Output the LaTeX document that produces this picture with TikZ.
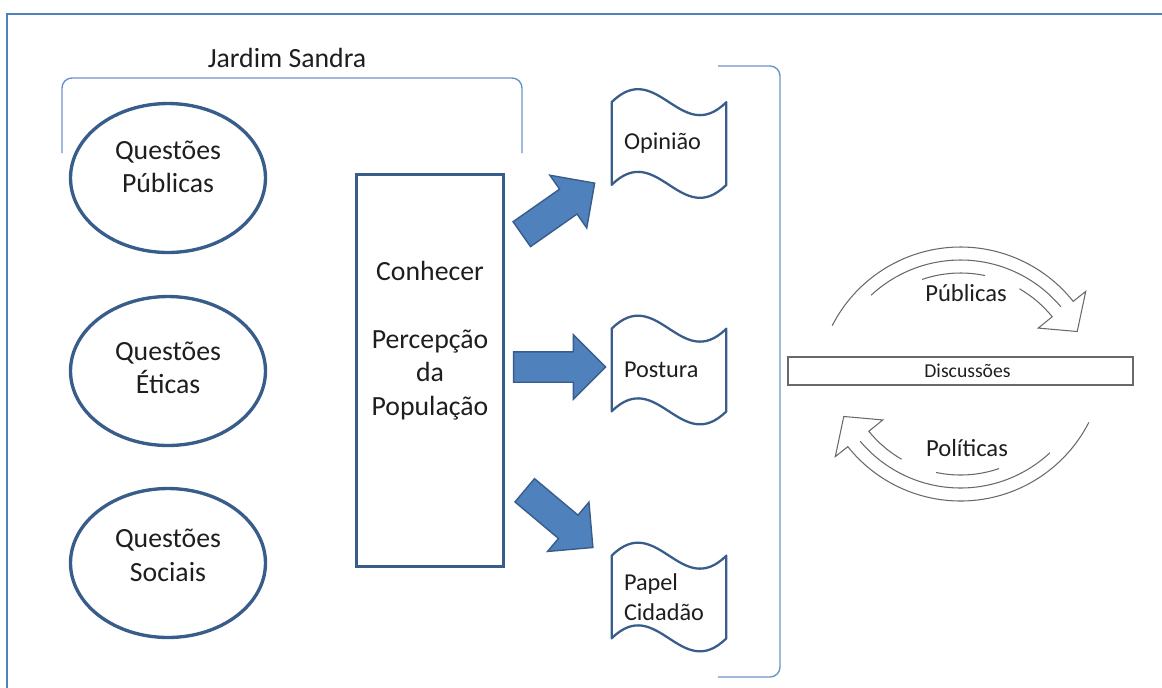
\documentclass[tikz,border=0pt]{standalone}
\usepackage{fontspec}
\setmainfont{Carlito}
\usepackage{tikz}
\usetikzlibrary{calc}
\usetikzlibrary{positioning}
\usetikzlibrary{shapes.geometric}
\usetikzlibrary{shapes.arrows}

\definecolor{frameblue}{RGB}{79,129,189}
\definecolor{darkblue}{RGB}{56,93,138}
\definecolor{cyclegray}{RGB}{105,105,105}
\definecolor{textgray}{RGB}{30,30,30}

\tikzset{
  bigfont/.style={font=\fontsize{15.8}{19}\selectfont},
  questao/.style={ellipse, draw=darkblue, line width=1.9pt, minimum width=3.9cm, minimum height=2.98cm, align=center, text depth=13pt, text=textgray, bigfont},
  panel/.style={draw=darkblue, line width=1.7pt, minimum width=2.95cm, minimum height=7.85cm, align=center, text depth=36.6pt, text=textgray, bigfont},
  flag/.style={minimum width=2.28cm, minimum height=1.64cm, text width=1.8cm, inner xsep=0.24cm, align=left, text=textgray, font=\fontsize{13.8}{17}\selectfont,
    append after command={\pgfextra{\draw[darkblue, line width=1.3pt, line join=round]
      (\tikzlastnode.north west) .. controls +(0.91cm,0.9cm) and +(-0.91cm,-0.9cm) .. (\tikzlastnode.north east)
      -- (\tikzlastnode.south east) .. controls +(-0.91cm,-0.9cm) and +(0.91cm,0.9cm) .. (\tikzlastnode.south west)
      -- cycle;}}},
  blockarrow/.style={single arrow, fill=frameblue, draw=darkblue, line width=0.8pt, inner xsep=0pt, inner ysep=0.29cm, single arrow head extend=0.34cm, minimum width=0pt},
  bracketline/.style={draw=frameblue!85, line width=0.8pt, rounded corners=0.2cm},
  cycleline/.style={draw=cyclegray, line width=0.6pt},
  cyclelabel/.style={text=textgray, font=\fontsize{14}{17}\selectfont},
}

\begin{document}
\begin{tikzpicture}[x=0.02cm, y=-0.02cm]
    \useasboundingbox (0,0) rectangle (1162,687);
    % frame
    \draw[frameblue, line width=1.6pt] (7,700) -- (7,14) -- (1175,14);

    % left group
    \node[bigfont, text=textgray] (jardim) at (287,58) {Jardim Sandra};
    \draw[bracketline] (62,153) -- (62,78) -- (522,78) -- (522,153);
    \node[questao] (qpub) at (168,178) {Questões\\Públicas};
    \node[questao, text depth=3.5pt] (qeti) at (168,371) {Questões\\Éticas};
    \node[questao, text depth=9pt] (qsoc) at (168,563) {Questões\\Sociais};

    % centre box
    \node[panel] (box) at (430,370.5) {Conhecer\\[0.68cm]Percepção\\da\\População};

    % flags
    \node[flag] (op) at (669,143.5) {Opinião};
    \node[flag] (post) at (669,370) {Postura};
    \node[flag] (papel) at (669,597) {Papel\\Cidadão};
    \draw[bracketline] (718,66) -- (780,66) -- (780,677) -- (718,677);

    % block arrows
    \node[blockarrow, minimum height=1.78cm, rotate=35] (arrop) at (552,213) {};
    \node[blockarrow, minimum height=1.84cm] (arrpost) at (552,367) {};
    \node[blockarrow, minimum height=1.78cm, rotate=-40] (arrpapel) at (553,514) {};

    % cycle
    \node[draw=cyclegray, line width=0.8pt, minimum width=6.9cm, minimum height=0.56cm, inner sep=0pt, text=textgray, font=\fontsize{11.2}{14}\selectfont] (disc) at (960.5,371) {\hspace*{0.28cm}Discussões};
    \coordinate (ctop) at ($(disc.center)+(0,20)$);
    \coordinate (cbot) at ($(disc.center)+(0,-14)$);

    \draw[cycleline] ($(ctop)+(-153:144)$) arc[start angle=-153, end angle=-38.5, radius=144]
        -- ($(ctop)+(-38.5:160)$) -- ($(ctop)+(-27:131)$) -- ($(ctop)+(-39:100)$)
        -- ($(ctop)+(-39:118)$) arc[start angle=-39, end angle=-60, radius=118];
    \draw[cycleline] ($(ctop)+(-133:131)$) arc[start angle=-133, end angle=-40, radius=131];
    \draw[cycleline] ($(ctop)+(-109:118)$) arc[start angle=-109, end angle=-78, radius=118];
    \node[cyclelabel] (pub) at (966,293) {Públicas};

    \draw[cycleline] ($(cbot)+(27:144)$) arc[start angle=27, end angle=141.5, radius=144]
        -- ($(cbot)+(141.5:160)$) -- ($(cbot)+(153:131)$) -- ($(cbot)+(141:100)$)
        -- ($(cbot)+(141:118)$) arc[start angle=141, end angle=120, radius=118];
    \draw[cycleline] ($(cbot)+(47:131)$) arc[start angle=47, end angle=140, radius=131];
    \draw[cycleline] ($(cbot)+(71:118)$) arc[start angle=71, end angle=102, radius=118];
    \node[cyclelabel] (pol) at (967,448) {Políticas};
\end{tikzpicture}
\end{document}
